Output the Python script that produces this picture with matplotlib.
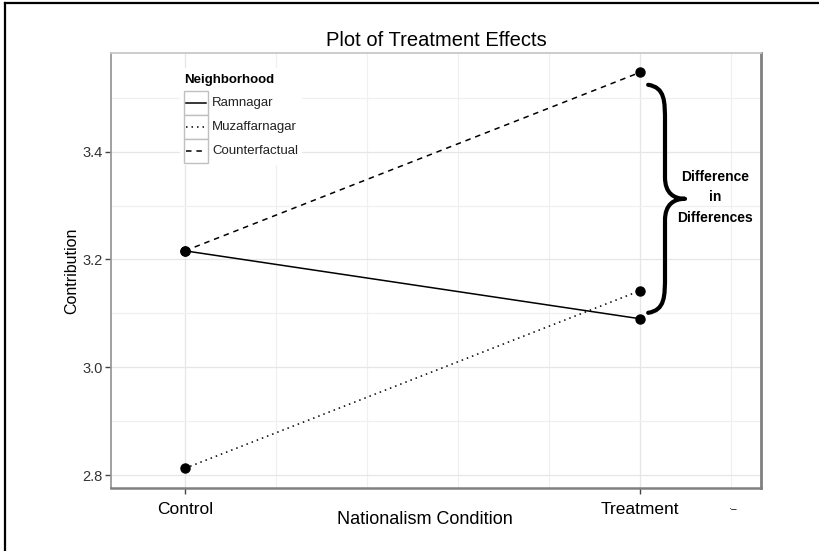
import matplotlib
matplotlib.use("Agg")
import matplotlib.pyplot as plt
from matplotlib.lines import Line2D
from matplotlib.patches import Rectangle, PathPatch
from matplotlib.path import Path

plt.rcParams['font.family'] = ['Liberation Sans', 'DejaVu Sans']

# data
conditions = ["Control", "Treatment"]
ramnagar = [3.216, 3.090]
muzaffarnagar = [2.8125, 3.142]
counterfactual = [3.216, 3.547]
series_names = ["Ramnagar", "Muzaffarnagar", "Counterfactual"]

W, H = 819, 551


def px(x, y):
    # pixel position -> figure fraction
    return x / W, 1 - y / H


fig = plt.figure(figsize=(W / 100, H / 100), dpi=100)
ax = fig.add_axes([111 / W, 1 - 488 / H, (761 - 111) / W, (488 - 53) / H])

xs = list(range(len(conditions)))
styles = [dict(ls="-"), dict(ls=(0, (1, 2.6))), dict(ls=(0, (3.6, 3.2)))]
for vals, st in zip([ramnagar, muzaffarnagar, counterfactual], styles):
    ax.plot(xs, vals, color="black", lw=1.1, zorder=3, **st)
    ax.plot(xs, vals, "o", color="black", ms=6.5, zorder=4)

ax.set_xlim(-0.1626, 1.266)
ax.set_ylim(2.776, 3.583)

# grid like ggplot theme_bw
ax.set_yticks([2.8, 3.0, 3.2, 3.4])
ax.set_yticks([2.9, 3.1, 3.3, 3.5], minor=True)
ax.set_xticks(xs)
ax.set_xticks([0.2, 0.4, 0.6, 0.8, 1.2], minor=True)
ax.grid(which="major", color="#E6E6E6", lw=0.9, zorder=0)
ax.grid(which="minor", color="#F0F0F0", lw=0.9, zorder=0)
ax.set_axisbelow(True)
ax.tick_params(which="minor", length=0)
ax.tick_params(which="major", length=4, width=1, color="#444444")
ax.set_xticklabels(conditions, fontsize=12.5)
ax.tick_params(axis="x", pad=6)
ax.tick_params(axis="y", labelsize=10.5, labelcolor="#333333", pad=2)
for s in ax.spines.values():
    s.set_color("#9a9a9a")
    s.set_linewidth(1.3)
ax.spines["right"].set_color("#808080")
ax.spines["right"].set_linewidth(2)
ax.spines["bottom"].set_color("#808080")
ax.spines["bottom"].set_linewidth(1.8)
ax.spines["top"].set_color("#c8c8c8")

ax.set_xlabel("Nationalism Condition", fontsize=13)
ax.xaxis.set_label_coords((425 - 111) / (761 - 111), -(520 - 488) / (488 - 53), transform=ax.transAxes)
ax.xaxis.label.set_va("center")
ax.set_ylabel("Contribution", fontsize=11.5)
ax.yaxis.set_label_coords(-(111 - 72) / (761 - 111), 0.5, transform=ax.transAxes)
ax.yaxis.label.set_va("center")
ax.set_title("Plot of Treatment Effects", fontsize=14.5, pad=5)

# curly brace next to the treatment points
x0, x1, x2 = 1.018, 1.055, 1.099
yt, yb = 3.524, 3.101
ym = (yt + yb) / 2
verts = [
    (x0, yt), (x1, yt - 0.005), (x1, yt - 0.03), (x1, yt - 0.07),
    (x1, ym + 0.04),
    (x1, ym + 0.01), (x1 + 0.02, ym), (x2, ym),
    (x1 + 0.02, ym), (x1, ym - 0.01), (x1, ym - 0.04),
    (x1, yb + 0.07),
    (x1, yb + 0.03), (x1, yb + 0.005), (x0, yb),
]
codes = [Path.MOVETO, Path.CURVE4, Path.CURVE4, Path.CURVE4,
         Path.LINETO,
         Path.CURVE4, Path.CURVE4, Path.CURVE4,
         Path.CURVE4, Path.CURVE4, Path.CURVE4,
         Path.LINETO,
         Path.CURVE4, Path.CURVE4, Path.CURVE4]
ax.add_patch(PathPatch(Path(verts, codes), fill=False, lw=3, color="black",
                       capstyle="round", joinstyle="round", zorder=5,
                       clip_on=False))
ax.text(1.165, ym + 0.003, "Difference\nin\nDifferences", ha="center", va="center",
        fontsize=10, fontweight="bold", linespacing=1.6, zorder=5)

# legend drawn by hand (ggplot style keys)
fig.add_artist(Rectangle(px(180, 165), 122 / W, 97 / H, transform=fig.transFigure,
                         facecolor="white", edgecolor="none", zorder=2))
fig.text(*px(184, 80), "Neighborhood", fontsize=9.5, fontweight="bold",
         va="center", ha="left")
rows = [103, 127, 151]
for name, st, yy in zip(series_names, styles, rows):
    fig.add_artist(Rectangle(px(184, yy + 12), 24 / W, 24 / H, transform=fig.transFigure,
                             facecolor="white", edgecolor="#c0c0c0", lw=1, zorder=3))
    fig.add_artist(Line2D([186 / W, 206 / W], [1 - yy / H] * 2, transform=fig.transFigure,
                          color="black", lw=1.1, zorder=4, **st))
    fig.text(*px(212, yy), name, fontsize=9.5, va="center", ha="left", color="#222222")

# stray mark under the axis and outer frame
fig.text(*px(733, 509), "\u00b7\u2013", fontsize=7, ha="center", va="center")
fig.add_artist(Line2D([5 / W, 5 / W], [0, 1 - 3 / H], transform=fig.transFigure,
                      color="black", lw=1.6))
fig.add_artist(Line2D([5 / W, 1], [1 - 3 / H, 1 - 3 / H], transform=fig.transFigure,
                      color="black", lw=1.6))

fig.savefig("out.png", dpi=100)
